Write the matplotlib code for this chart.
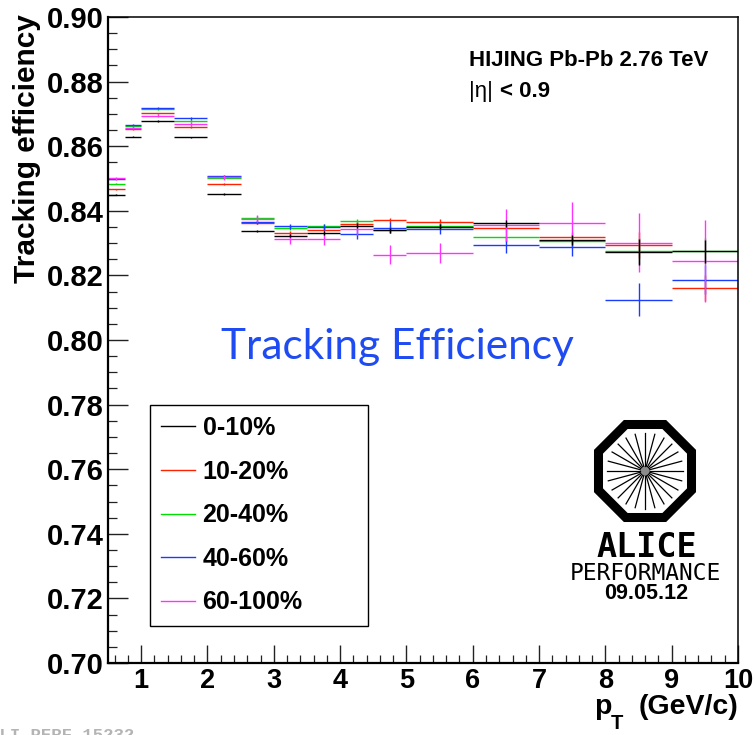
import numpy as np
import matplotlib
matplotlib.use("Agg")
import matplotlib.pyplot as plt
from matplotlib.lines import Line2D
from matplotlib.patches import Polygon, Circle

# ---- data -------------------------------------------------------------
pt_edges = [0.5, 0.75, 1.0, 1.5, 2.0, 2.5, 3.0, 3.5, 4.0, 4.5, 5.0, 6.0, 7.0, 8.0, 9.0, 10.0]

eff_0_10 = [0.8450, 0.8630, 0.8678, 0.8627, 0.8451, 0.8337, 0.8323, 0.8330,
            0.8354, 0.8340, 0.8351, 0.8361, 0.8310, 0.8273, 0.8274]
eff_10_20 = [0.8466, 0.8652, 0.8702, 0.8659, 0.8483, 0.8363, 0.8331, 0.8340,
             0.8359, 0.8370, 0.8365, 0.8347, 0.8318, 0.8294, 0.8160]
eff_20_40 = [0.8484, 0.8661, 0.8714, 0.8679, 0.8501, 0.8379, 0.8348, 0.8352,
             0.8368, 0.8342, 0.8353, 0.8319, 0.8305, 0.8275, 0.8276]
eff_40_60 = [0.8500, 0.8666, 0.8718, 0.8686, 0.8507, 0.8366, 0.8352, 0.8350,
             0.8328, 0.8348, 0.8343, 0.8293, 0.8287, 0.8125, 0.8186]
eff_60_100 = [0.8501, 0.8657, 0.8695, 0.8668, 0.8504, 0.8375, 0.8313, 0.8313,
              0.8345, 0.8264, 0.8269, 0.8355, 0.8363, 0.8301, 0.8245]

err_0_10 = [0.0002, 0.0002, 0.0002, 0.0003, 0.0003, 0.0004, 0.0005, 0.0006,
            0.0007, 0.0008, 0.0008, 0.0012, 0.0015, 0.0040, 0.0035]
err_10_20 = [0.0002, 0.0002, 0.0002, 0.0003, 0.0003, 0.0004, 0.0005, 0.0006,
             0.0007, 0.0009, 0.0009, 0.0013, 0.0016, 0.0040, 0.0040]
err_20_40 = [0.0002, 0.0002, 0.0002, 0.0003, 0.0004, 0.0005, 0.0006, 0.0007,
             0.0008, 0.0010, 0.0010, 0.0015, 0.0018, 0.0040, 0.0040]
err_40_60 = [0.0003, 0.0003, 0.0003, 0.0004, 0.0005, 0.0006, 0.0008, 0.0010,
             0.0015, 0.0017, 0.0016, 0.0025, 0.0028, 0.0050, 0.0045]
err_60_100 = [0.0005, 0.0005, 0.0005, 0.0006, 0.0008, 0.0011, 0.0015, 0.0019,
              0.0020, 0.0030, 0.0030, 0.0050, 0.0064, 0.0092, 0.0128]

labels = ["0-10%", "10-20%", "20-40%", "40-60%", "60-100%"]
colors = ["#000000", "#ff2200", "#00e000", "#1a3cff", "#ff33ff"]
series = [eff_0_10, eff_10_20, eff_20_40, eff_40_60, eff_60_100]
errors = [err_0_10, err_10_20, err_20_40, err_40_60, err_60_100]
layers = [2.6, 2.1, 2.2, 2.3, 2.4]

x_ticks = [1, 2, 3, 4, 5, 6, 7, 8, 9, 10]
y_ticks = [0.70, 0.72, 0.74, 0.76, 0.78, 0.80, 0.82, 0.84, 0.86, 0.88, 0.90]

# ---- figure -------------------------------------------------------------
W, H = 755, 735
HELV = "Liberation Sans"
plt.rcParams["font.family"] = [HELV, "DejaVu Sans"]


def fx(x):
    return x / W


def fy(y):
    return 1 - y / H


fig = plt.figure(figsize=(W / 100, H / 100), dpi=100)
ax = fig.add_axes([fx(108), fy(663), 630 / W, 646 / H])

edges = np.array(pt_edges)
centers = 0.5 * (edges[:-1] + edges[1:])
halfw = 0.5 * (edges[1:] - edges[:-1])

for vals, errs, col, z in zip(series, errors, colors, layers):
    ax.errorbar(centers, vals, xerr=halfw, yerr=errs, fmt="none",
                ecolor=col, elinewidth=1.0, capsize=0, zorder=z)

ax.set_xlim(0.5, 10.0)
ax.set_ylim(0.70, 0.90)

ax.set_xticks(x_ticks, [str(v) for v in x_ticks])
ax.set_yticks(y_ticks, ["%.2f" % v for v in y_ticks])
ax.set_xticks(np.arange(0.6, 10.0, 0.2), minor=True)
ax.set_yticks(np.arange(0.70, 0.9001, 0.005), minor=True)

for lbl in ax.get_xticklabels():
    lbl.set_fontweight("bold")
    lbl.set_fontsize(19.5)
for lbl in ax.get_yticklabels():
    lbl.set_fontweight("bold")
    lbl.set_fontsize(21)

ax.tick_params(axis="x", which="major", direction="in", length=13, width=1.0, pad=3.5,
               top=False, color="#222222")
ax.tick_params(axis="x", which="minor", direction="in", length=5.8, width=0.9, top=False,
               color="#222222")
ax.tick_params(axis="y", which="major", direction="in", length=14.4, width=1.0, pad=3,
               right=False, color="#222222")
ax.tick_params(axis="y", which="minor", direction="in", length=6.5, width=0.9, right=False,
               color="#222222")
for side, sp in ax.spines.items():
    sp.set_linewidth(1.6 if side in ("left", "bottom") else 1.1)

# axis titles
fig.text(fx(27), fy(14), "Tracking efficiency", rotation=90, ha="center", va="top",
         fontsize=21.5, fontweight="bold")
fig.text(fx(594), fy(714), "p", ha="left", va="baseline", fontsize=20.5, fontweight="bold")
fig.text(fx(611), fy(729), "T", ha="left", va="baseline", fontsize=14.5, fontweight="bold")
fig.text(fx(738), fy(714), "(GeV/c)", ha="right", va="baseline", fontsize=20.5,
         fontweight="bold")

# legend
handles = [Line2D([], [], color=c, lw=1.0) for c in colors]
leg = ax.legend(handles, labels, loc="upper left",
                bbox_to_anchor=(fx(150), fy(405), 218 / W, 0), bbox_transform=fig.transFigure,
                mode="expand", prop={"family": HELV, "weight": "bold", "size": 18},
                frameon=True, fancybox=False, edgecolor="black", framealpha=1,
                borderpad=0.45, labelspacing=0.78, handlelength=1.35,
                handletextpad=0.3, borderaxespad=0)
leg.get_frame().set_linewidth(1.0)

# annotations
fig.text(fx(469), fy(66), "HIJING Pb-Pb 2.76 TeV", fontsize=16, fontweight="bold",
         va="baseline", ha="left")
fig.text(fx(469), fy(97), "|η|", fontsize=16, va="baseline", ha="left")
fig.text(fx(500), fy(97), "< 0.9", fontsize=16, fontweight="bold", va="baseline", ha="left")
fig.text(fx(397), fy(359), "Tracking Efficiency", fontsize=30.5, family="Lato",
         color="#1f4cf2", ha="center", va="baseline")

# ALICE performance badge
over = fig.add_axes([0, 0, 1, 1], zorder=5)
over.set_xlim(0, W)
over.set_ylim(H, 0)
over.axis("off")
cx, cy = 645, 471
apothem = 46.5
rad = apothem / np.cos(np.pi / 8)
ang = np.pi / 8 + np.arange(8) * np.pi / 4
octa = Polygon(np.column_stack([cx + rad * np.cos(ang), cy + rad * np.sin(ang)]),
               closed=True, facecolor="white", edgecolor="black", lw=6.5, joinstyle="miter")
over.add_patch(octa)
for a in np.arange(24) * np.pi / 12:
    over.plot([cx + 5 * np.cos(a), cx + 38 * np.cos(a)],
              [cy + 5 * np.sin(a), cy + 38 * np.sin(a)], color="black", lw=0.9)
over.add_patch(Circle((cx, cy), 5, color="#8c8c8c", lw=0))

fig.text(fx(647), fy(557), "ALICE", family="DejaVu Sans Mono", fontweight="bold",
         fontsize=24, ha="center", va="baseline")
fig.text(fx(645), fy(580), "PERFORMANCE", family="DejaVu Sans Mono", fontsize=16.5,
         ha="center", va="baseline")
fig.text(fx(646), fy(599), "09.05.12", fontsize=15.5, fontweight="bold",
         ha="center", va="baseline")

fig.text(fx(-11), fy(740), "ALI-PERF-15232", family="Liberation Mono", fontweight="bold",
         fontsize=12.5, color="#b4b4b4", ha="left", va="baseline")

fig.savefig("out.png", dpi=100)
